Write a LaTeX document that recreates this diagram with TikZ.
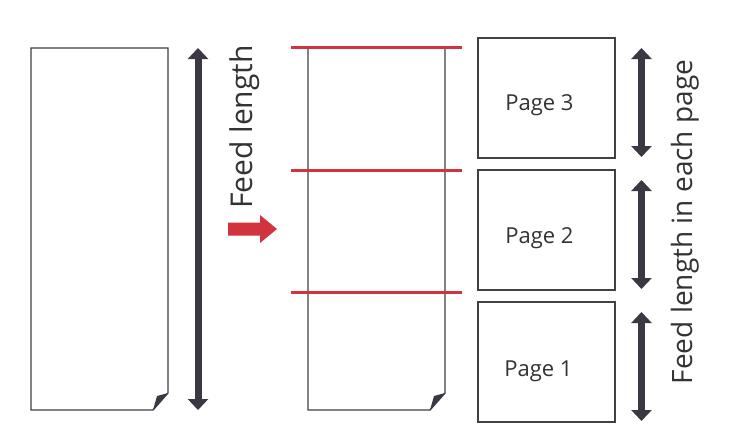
\documentclass[tikz,border=0pt]{standalone}
\usepackage{fontspec}
\setmainfont{Open Sans}
\usetikzlibrary{arrows.meta,calc}
\definecolor{dk}{HTML}{3B3843}
\definecolor{edge}{HTML}{404045}
\definecolor{rd}{HTML}{D1343C}
\definecolor{txt}{HTML}{333336}
\tikzset{
  paper/.style={draw=none,minimum width=137pt,minimum height=362pt,inner sep=0pt,outer sep=0pt},
  pagebox/.style={draw=edge,line width=1.4pt,minimum width=137pt,minimum height=120pt,inner sep=0pt,outer sep=0pt},
  outline/.style={draw=edge,line width=1.4pt,line join=miter},
  fold/.style={fill=dk},
  dim/.style={draw=dk,line width=7pt,{Triangle[width=20pt,length=11pt]}-{Triangle[width=20pt,length=11pt]}},
  cutline/.style={draw=rd,line width=3pt},
  lbl/.style={text=txt,font=\fontsize{22}{26}\selectfont,inner sep=0pt},
  biglbl/.style={text=txt,inner sep=0pt,rotate=90}
}
\begin{document}
\begin{tikzpicture}[x=1pt,y=-1pt]
\useasboundingbox[fill=white] (0,0) rectangle (731,447);
% left paper
\node[paper,anchor=north west] (p0) at (31,48) {};
\path[outline] (p0.north west) -- (p0.north east) -- ($(p0.south east)+(0,-17)$) -- ($(p0.south east)+(-15,0)$) -- (p0.south west) -- cycle;
\path[fold] ($(p0.south east)+(-15,0)$) -- ($(p0.south east)+(-11,-14)$) -- ($(p0.south east)+(0,-17)$) -- cycle;
% middle paper
\node[paper,anchor=north west] (p1) at (308,48) {};
\path[outline] (p1.north west) -- (p1.north east) -- ($(p1.south east)+(0,-17)$) -- ($(p1.south east)+(-15,0)$) -- (p1.south west) -- cycle;
\path[fold] ($(p1.south east)+(-15,0)$) -- ($(p1.south east)+(-11,-14)$) -- ($(p1.south east)+(0,-17)$) -- cycle;
% left dimension arrow
\coordinate (a0t) at (198,48);
\coordinate (a0b) at (198,410);
\path[dim] (a0t) -- (a0b);
\node[biglbl,font=\fontsize{30}{34}\selectfont] (fl) at (245,127) {Feed length};
% red arrow
\node[inner sep=0pt] (ra) at (252,229) {};
\fill[rd] ($(ra)+(-24,-6.5)$) -- ($(ra)+(8,-6.5)$) -- ($(ra)+(8,-14)$) -- ($(ra)+(25,0)$) -- ($(ra)+(8,14)$) -- ($(ra)+(8,6.5)$) -- ($(ra)+(-24,6.5)$) -- cycle;
% red cut lines
\coordinate (c1l) at (291,47); \coordinate (c1r) at (462,47);
\coordinate (c2l) at (291,170); \coordinate (c2r) at (462,170);
\coordinate (c3l) at (291,292); \coordinate (c3r) at (462,292);
\path[cutline] (c1l) -- (c1r);
\path[cutline] (c2l) -- (c2r);
\path[cutline] (c3l) -- (c3r);
% pages
\node[pagebox,anchor=north west] (pg3) at (478,38) {};
\node[pagebox,anchor=north west] (pg2) at (478,170) {};
\node[pagebox,anchor=north west] (pg1) at (478,302) {};
\node[lbl,anchor=base] (t3) at ($(pg3.north)+(-7,72)$) {Page 3};
\node[lbl,anchor=base] (t2) at ($(pg2.north)+(-7,73)$) {Page 2};
\node[lbl,anchor=base] (t1) at ($(pg1.north)+(-8,74)$) {Page 1};
% right dimension arrows
\coordinate (r3t) at (641.5,48); \coordinate (r3b) at (641.5,157);
\coordinate (r2t) at (641.5,180); \coordinate (r2b) at (641.5,289);
\coordinate (r1t) at (641.5,312); \coordinate (r1b) at (641.5,421);
\path[dim] (r3t) -- (r3b);
\path[dim] (r2t) -- (r2b);
\path[dim] (r1t) -- (r1b);
\node[biglbl,font=\fontsize{28}{32}\selectfont] (fle) at (685,222) {Feed length in each page};
\end{tikzpicture}
\end{document}
